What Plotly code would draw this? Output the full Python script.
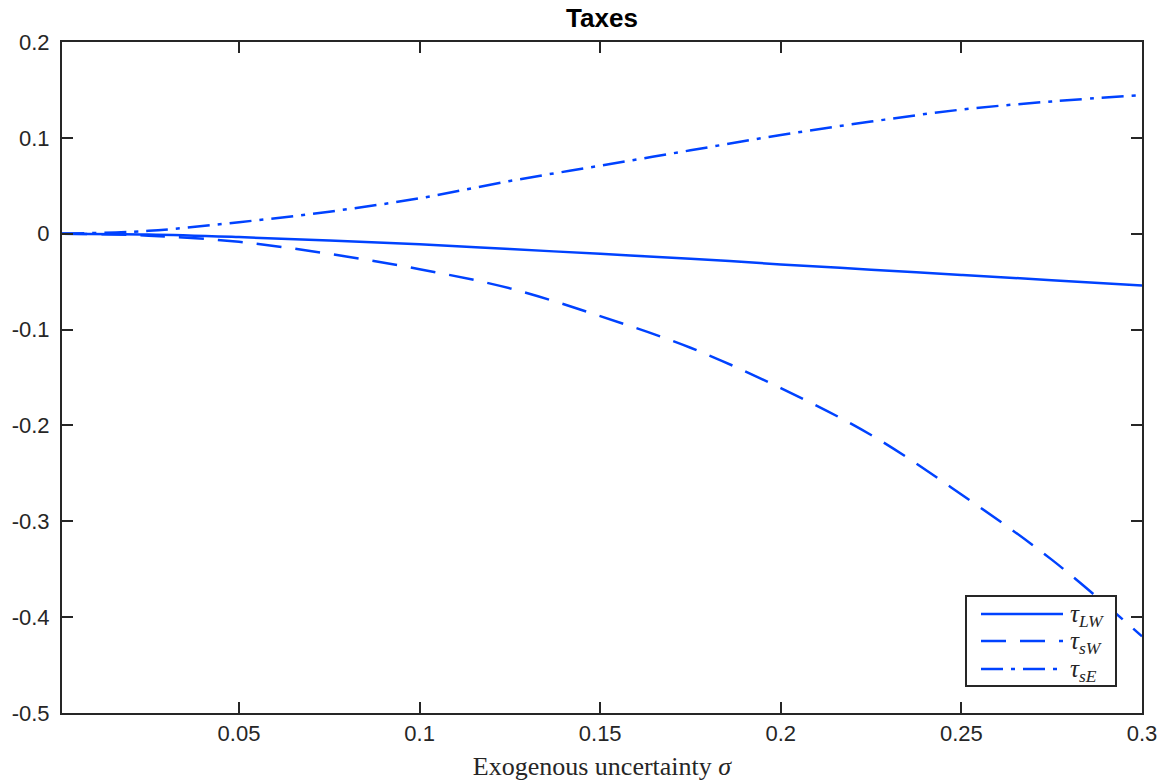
import plotly.graph_objects as go

# Data
sigma = [0.001, 0.025, 0.05, 0.075, 0.1, 0.125, 0.15, 0.175, 0.2, 0.225, 0.25, 0.275, 0.3]
tau_LW = [0.0, -0.0008, -0.0035, -0.007, -0.011, -0.016, -0.021, -0.026, -0.032, -0.0375, -0.043, -0.0485, -0.054]
tau_sW = [0.0, -0.002, -0.0085, -0.021, -0.037, -0.057, -0.086, -0.119, -0.161, -0.210, -0.272, -0.340, -0.420]
tau_sE = [0.0, 0.003, 0.012, 0.023, 0.037, 0.055, 0.071, 0.087, 0.103, 0.117, 0.1295, 0.138, 0.1446]

x_tickvals = [0.05, 0.1, 0.15, 0.2, 0.25, 0.3]
x_ticktext = ["0.05", "0.1", "0.15", "0.2", "0.25", "0.3"]
y_tickvals = [-0.5, -0.4, -0.3, -0.2, -0.1, 0, 0.1, 0.2]
y_ticktext = ["-0.5", "-0.4", "-0.3", "-0.2", "-0.1", "0", "0.1", "0.2"]

series_names = ["<i>τ</i><sub><i>LW</i></sub>", "<i>τ</i><sub><i>sW</i></sub>", "<i>τ</i><sub><i>sE</i></sub>"]

BLUE = "rgb(0,66,255)"
AX = "#262626"
W, H = 1170, 781
ML, MR, MT, MB = 62, 28, 42, 68
DASHES = ["solid", "25px,14px", "22px,8px,4px,8px"]

fig = go.Figure()
for yv, nm, dsh in zip([tau_LW, tau_sW, tau_sE], series_names, DASHES):
    fig.add_trace(go.Scatter(x=sigma, y=yv, mode="lines", name=nm, showlegend=False,
                             line=dict(color=BLUE, width=2.5, dash=dsh, shape="spline")))

# Legend box drawn like the MATLAB legend (long line samples)
pw, ph = W - ML - MR, H - MT - MB
def px_x(p):
    return (p - ML) / pw
def px_y(p):
    return (H - MB - p) / ph

fig.add_shape(type="rect", xref="paper", yref="paper",
              x0=px_x(966), x1=px_x(1116), y0=px_y(686), y1=px_y(596),
              line=dict(color=AX, width=2), fillcolor="white", layer="above")
row_y = [614, 641, 669]
for ry, nm, dsh in zip(row_y, series_names, DASHES):
    fig.add_shape(type="line", xref="paper", yref="paper",
                  x0=px_x(981), x1=px_x(1063), y0=px_y(ry), y1=px_y(ry),
                  line=dict(color=BLUE, width=2.5, dash=dsh), layer="above")
    fig.add_annotation(xref="paper", yref="paper", x=px_x(1068), y=px_y(ry + 1),
                       xanchor="left", yanchor="middle", showarrow=False, text=nm,
                       font=dict(family="Liberation Serif, Times New Roman, serif", size=25, color=AX))

axis_common = dict(
    showgrid=False, zeroline=False, showline=True, linecolor=AX, linewidth=2,
    ticks="inside", ticklen=11, tickwidth=2, tickcolor=AX, mirror="ticks",
    automargin=False,
    tickfont=dict(family="Liberation Sans, Arial, sans-serif", size=22, color=AX),
)

fig.update_layout(
    width=W, height=H,
    margin=dict(l=ML, r=MR, t=MT, b=MB),
    paper_bgcolor="white", plot_bgcolor="white",
    title=dict(text="<b>Taxes</b>", x=0.5145, xanchor="center", y=0.977, yanchor="middle",
               automargin=False,
               font=dict(family="Liberation Sans, Arial, sans-serif", size=26, color="black")),
    xaxis=dict(range=[0.001, 0.3], tickvals=x_tickvals, ticktext=x_ticktext,
               ticklabelstandoff=0,
               title=dict(text="Exogenous uncertainty <i>σ</i>", standoff=20,
                          font=dict(family="Liberation Serif, Times New Roman, serif", size=26, color=AX)),
               **axis_common),
    yaxis=dict(range=[-0.5, 0.2], tickvals=y_tickvals, ticktext=y_ticktext,
               ticklabelstandoff=6, **axis_common),
    showlegend=False,
)

fig.write_html("out.html", config={"displayModeBar": False},
               post_script="document.body.style.margin='0';")
